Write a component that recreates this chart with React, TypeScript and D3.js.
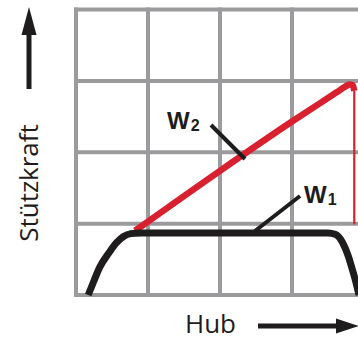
import React from "react";
import * as d3 from "d3";

// grid divisions (Hub x, Stützkraft y), in chart units
const gridX = [0, 1, 2, 3, 4];
const gridY = [0, 1, 2, 3, 4];

// W1: black curve (Hub, Stützkraft)
const w1Hub = [0.17, 0.25, 0.33, 0.45, 0.56, 0.66, 0.76, 0.9, 1.2, 2.5, 3.5, 3.6, 3.7, 3.78, 3.84, 3.89, 3.93];
const w1Kraft = [0, 0.2, 0.39, 0.58, 0.73, 0.82, 0.86, 0.87, 0.87, 0.87, 0.87, 0.85, 0.74, 0.55, 0.35, 0.17, 0];

// W2: red curve, rising part and the drop at the end
const w2Hub = [0.82, 2.0, 3.0, 3.62, 3.74, 3.8, 3.845, 3.865];
const w2Kraft = [0.9, 1.74, 2.43, 2.84, 2.92, 2.95, 2.94, 2.86];
const w2DropHub = [3.865, 3.865];
const w2DropKraft = [2.86, 0.99];

const labels = { y: "Stützkraft", x: "Hub", w1: "W", w2: "W" };

const W = 358;
const H = 340;
const gridColor = "#9b9b9e";
const red = "#d9202f";
const black = "#1e1c1c";

export default function App() {
  const x = d3.scaleLinear().domain([0, 4]).range([76, 364]);
  const y = d3.scaleLinear().domain([0, 4]).range([295, 9.5]);

  const line = d3
    .line<[number, number]>()
    .x((d) => x(d[0]))
    .y((d) => y(d[1]))
    .curve(d3.curveMonotoneX);

  const straight = d3
    .line<[number, number]>()
    .x((d) => x(d[0]))
    .y((d) => y(d[1]));

  const w1 = w1Hub.map((h, i) => [h, w1Kraft[i]] as [number, number]);
  const w2 = w2Hub.map((h, i) => [h, w2Kraft[i]] as [number, number]);
  const w2Drop = w2DropHub.map((h, i) => [h, w2DropKraft[i]] as [number, number]);

  return (
    <div style={{ position: "fixed", left: 0, top: 0 }}>
      <svg width={W} height={H} style={{ display: "block", background: "#fff" }}>
        {/* grid */}
        <g stroke={gridColor} strokeWidth={4}>
          {gridX.map((g) => (
            <line key={"x" + g} x1={x(g)} x2={x(g)} y1={y(4) - 2} y2={y(0) + 2} />
          ))}
          {gridY.map((g) => (
            <line key={"y" + g} x1={x(0) - 2} x2={x(4)} y1={y(g)} y2={y(g)} />
          ))}
        </g>

        {/* W2 red */}
        <path d={line(w2) || ""} fill="none" stroke={red} strokeWidth={6.5} strokeLinejoin="round" />
        <path d={straight(w2Drop) || ""} fill="none" stroke={red} strokeWidth={2.2} />

        {/* W1 black */}
        <path d={line(w1) || ""} fill="none" stroke={black} strokeWidth={7} strokeLinejoin="round" />

        {/* leaders */}
        <g stroke={black} strokeWidth={4}>
          <line x1={211} y1={125} x2={245} y2={159} />
          <line x1={300} y1={196} x2={255} y2={231} />
        </g>

        {/* series labels */}
        <text x={167} y={129} fontFamily="Liberation Sans, Arial, sans-serif" fontWeight="bold" fontSize={24} fill={black}>
          {labels.w2}
          <tspan fontSize={16} dx={1} dy={2}>2</tspan>
        </text>
        <text x={304} y={203} fontFamily="Liberation Sans, Arial, sans-serif" fontWeight="bold" fontSize={24} fill={black}>
          {labels.w1}
          <tspan fontSize={16} dx={1} dy={2}>1</tspan>
        </text>

        {/* y axis title and arrow */}
        <text
          transform="translate(37.5,183) rotate(-90)"
          textAnchor="middle"
          fontFamily="Open Sans, sans-serif"
          fontSize={26}
          fill={black}
        >
          {labels.y}
        </text>
        <line x1={29} x2={29} y1={89} y2={30} stroke={black} strokeWidth={5} />
        <path d="M29,7 L36.5,35 L21.5,35 Z" fill={black} />

        {/* x axis title and arrow */}
        <text x={185} y={333} fontFamily="Open Sans, sans-serif" fontSize={26} fill={black}>
          {labels.x}
        </text>
        <line x1={258} x2={342} y1={326} y2={326} stroke={black} strokeWidth={5} />
        <path d="M359,326 L336,318.5 L336,333.5 Z" fill={black} />
      </svg>
    </div>
  );
}
